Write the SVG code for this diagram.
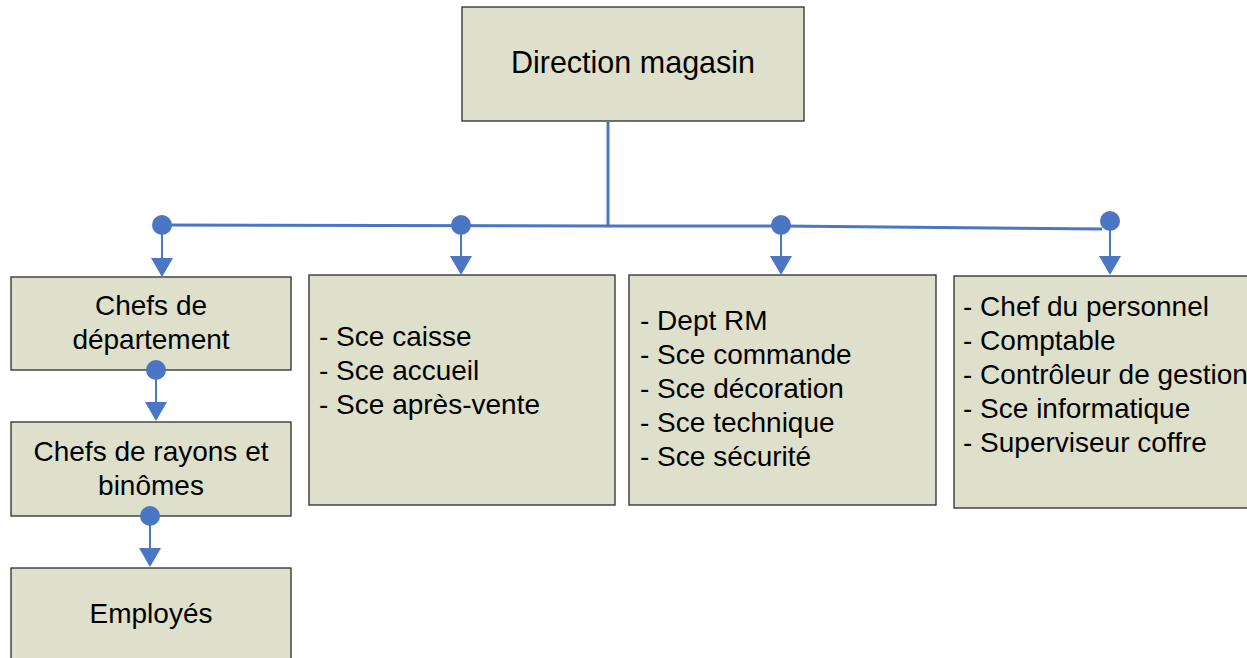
<svg xmlns="http://www.w3.org/2000/svg" width="1247" height="658" viewBox="0 0 1247 658">
  <style>
    .box { fill: #dee0cb; stroke: #2b2b2b; stroke-width: 1.3; }
    .t { font-family: "Liberation Sans", Arial, sans-serif; font-size: 28px; fill: #000; }
    .big { font-size: 30.5px; }
    .c { text-anchor: middle; }
    .ln { stroke: #4a76c4; stroke-width: 3; fill: none; }
    .thin { stroke: #4a76c4; stroke-width: 2; fill: none; }
    .dot { fill: #4a76c4; }
    .head { fill: #4a76c4; }
  </style>
  <rect width="1247" height="658" fill="#fff"/>

  <g id="direction">
    <rect class="box" x="462" y="7" width="342" height="114"/>
    <text class="t big c" x="633" y="73">Direction magasin</text>
  </g>

  <g id="chefs-departement">
    <rect class="box" x="11" y="277" width="280" height="93"/>
    <text class="t c" x="151" y="315">Chefs de</text>
    <text class="t c" x="151" y="349">département</text>
  </g>

  <g id="chefs-rayons">
    <rect class="box" x="11" y="422" width="280" height="94"/>
    <text class="t c" x="151" y="461">Chefs de rayons et</text>
    <text class="t c" x="151" y="495">binômes</text>
  </g>

  <g id="employes">
    <rect class="box" x="11" y="568" width="280" height="100"/>
    <text class="t c" x="151" y="623">Employés</text>
  </g>

  <g id="services-clients">
    <rect class="box" x="309" y="275" width="306" height="230"/>
    <text class="t" x="319" y="346">- Sce caisse</text>
    <text class="t" x="319" y="380">- Sce accueil</text>
    <text class="t" x="319" y="414">- Sce après-vente</text>
  </g>

  <g id="services-techniques">
    <rect class="box" x="629" y="275" width="307" height="230"/>
    <text class="t" x="640" y="330">- Dept RM</text>
    <text class="t" x="640" y="364">- Sce commande</text>
    <text class="t" x="640" y="398">- Sce décoration</text>
    <text class="t" x="640" y="432">- Sce technique</text>
    <text class="t" x="640" y="466">- Sce sécurité</text>
  </g>

  <g id="administration">
    <rect class="box" x="954" y="276" width="300" height="232"/>
    <text class="t" x="963" y="316">- Chef du personnel</text>
    <text class="t" x="963" y="350">- Comptable</text>
    <text class="t" x="963" y="384">- Contrôleur de gestion</text>
    <text class="t" x="963" y="418">- Sce informatique</text>
    <text class="t" x="963" y="452">- Superviseur coffre</text>
  </g>

  <!-- connectors, drawn over the boxes so the dots sit on their edges -->
  <g id="connectors">
    <line class="ln" x1="608" y1="121" x2="608" y2="226"/>
    <polyline class="ln" points="162,225 608,226 781,226 1102,229"/>
    <line class="thin" x1="162" y1="225" x2="162" y2="262"/>
    <polygon class="head" points="151,258 173,258 162,277"/>
    <circle class="dot" cx="162" cy="225" r="10"/>
    <line class="thin" x1="461" y1="225" x2="461" y2="260"/>
    <polygon class="head" points="450,256 472,256 461,275"/>
    <circle class="dot" cx="461" cy="225" r="10"/>
    <line class="thin" x1="781" y1="225" x2="781" y2="260"/>
    <polygon class="head" points="770,256 792,256 781,275"/>
    <circle class="dot" cx="781" cy="225" r="10"/>
    <line class="thin" x1="1110" y1="221" x2="1110" y2="260"/>
    <polygon class="head" points="1099,256 1121,256 1110,275"/>
    <circle class="dot" cx="1110" cy="221" r="10"/>
    <line class="thin" x1="156" y1="370" x2="156" y2="406"/>
    <polygon class="head" points="145,402 167,402 156,421"/>
    <circle class="dot" cx="156" cy="370" r="10"/>
    <line class="thin" x1="150" y1="516" x2="150" y2="552"/>
    <polygon class="head" points="139,548 161,548 150,567"/>
    <circle class="dot" cx="150" cy="516" r="10"/>
  </g>
</svg>
